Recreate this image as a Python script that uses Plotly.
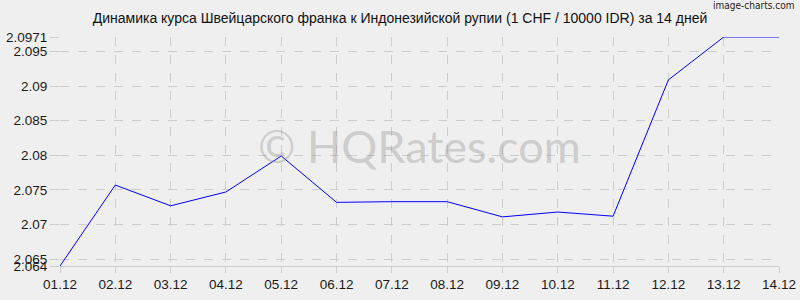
import plotly.graph_objects as go

dates = ["01.12", "02.12", "03.12", "04.12", "05.12", "06.12", "07.12",
         "08.12", "09.12", "10.12", "11.12", "12.12", "13.12", "14.12"]
rates = [2.0640, 2.0757, 2.0727, 2.0747, 2.0799, 2.0732, 2.0733,
         2.0733, 2.0711, 2.0718, 2.0712, 2.0909, 2.0971, 2.0971]
y_ticks = [2.064, 2.065, 2.07, 2.075, 2.08, 2.085, 2.09, 2.095, 2.0971]
y_labels = ["2.064", "2.065", "2.07", "2.075", "2.08", "2.085", "2.09", "2.095", "2.0971"]

idx = list(range(len(dates)))

fig = go.Figure()
fig.add_trace(go.Scatter(x=idx, y=rates, mode="lines",
                         line=dict(color="#0000ff", width=1), hoverinfo="skip"))

fig.update_layout(
    width=800, height=300,
    margin=dict(l=60, r=21, t=37, b=34),
    paper_bgcolor="#efefef", plot_bgcolor="#efefef",
    showlegend=False,
    font=dict(family="Liberation Sans, Arial, sans-serif", size=13.5, color="#1a1a1a"),
    title=dict(text="Динамика курса Швейцарского франка к Индонезийской рупии (1 CHF / 10000 IDR) за 14 дней",
               x=0.5, xanchor="center", y=0.94, yanchor="middle",
               font=dict(size=14, color="#111")),
)
fig.update_xaxes(range=[0, 13], tickvals=idx, ticktext=dates, automargin=False,
                 showgrid=True, gridcolor="#cccccc", griddash="dash", gridwidth=1,
                 zeroline=False, showline=True, linecolor="#cccccc", linewidth=1,
                 ticks="outside", ticklen=6,
                 tickcolor="#cccccc", tickfont=dict(size=13.5, color="#1a1a1a"))
fig.update_yaxes(range=[2.064, 2.0971], tickvals=y_ticks, ticktext=y_labels, automargin=False,
                 showgrid=True, gridcolor="#cccccc", griddash="dash", gridwidth=1,
                 zeroline=False, showline=False, ticks="outside", ticklen=9,
                 tickcolor="#cccccc", tickfont=dict(size=13.5, color="#1a1a1a"))

fig.add_annotation(text="© HQRates.com", x=0.5, y=0.5, xref="paper", yref="paper",
                   xanchor="center", yanchor="middle", yshift=6, showarrow=False,
                   font=dict(family="Lato, Open Sans, sans-serif", size=45, color="rgba(150,150,150,0.4)"))
fig.add_annotation(text="image-charts.com", x=1, y=1, xref="paper", yref="paper",
                   xanchor="right", yanchor="middle", yshift=32, xshift=17, showarrow=False,
                   font=dict(family="DejaVu Sans Condensed, DejaVu Sans, sans-serif", size=10, color="#222"))

fig.write_html("out.html")
